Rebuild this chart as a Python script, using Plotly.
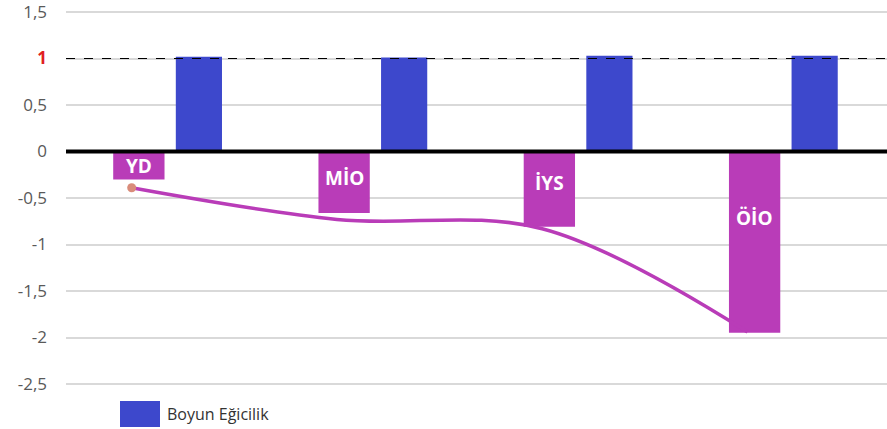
import plotly.graph_objects as go

categories = ["YD", "MİO", "İYS", "ÖİO"]
boyun_egicilik = [1.02, 1.01, 1.03, 1.03]
alt_boyut = [-0.30, -0.66, -0.81, -1.95]
egilim = [-0.39, -0.73, -0.83, -1.94]
label_y = [-0.16, -0.28, -0.34, -0.71]
tick_vals = [1.5, 1, 0.5, 0, -0.5, -1, -1.5, -2, -2.5]
tick_text = ["1,5", "<b><span style='color:#e02020'>1</span></b>", "0,5", "0", "-0,5", "-1", "-1,5", "-2", "-2,5"]
legend_name = "Boyun Eğicilik"

idx = list(range(len(categories)))
fig = go.Figure()

fig.add_trace(go.Bar(
    x=idx, y=alt_boyut, width=0.25, offset=-0.27,
    marker=dict(color="#b93cb8", line=dict(width=0)),
    showlegend=False, hoverinfo="skip"))
fig.add_trace(go.Bar(
    x=idx, y=boyun_egicilik, width=0.225, offset=0.035,
    marker=dict(color="#3d48cc", line=dict(width=0)),
    name=legend_name, showlegend=False))
fig.add_trace(go.Scatter(
    x=[i - 0.18 for i in idx], y=egilim, mode="lines",
    line=dict(color="#b93cb8", width=3.5, shape="spline", smoothing=1.0),
    showlegend=False, hoverinfo="skip"))
fig.add_trace(go.Scatter(
    x=[idx[0] - 0.18], y=[egilim[0]], mode="markers",
    marker=dict(color="#d98c7a", size=9),
    showlegend=False, hoverinfo="skip"))

for i, (c, ly) in enumerate(zip(categories, label_y)):
    fig.add_annotation(x=i - 0.145, y=ly, text="<b>" + c + "</b>", showarrow=False,
                       font=dict(color="white", size=19, family="Open Sans"))

fig.add_shape(type="line", xref="paper", x0=0, x1=1, y0=1, y1=1,
              line=dict(color="black", width=1, dash="dash"))
fig.add_shape(type="line", xref="paper", x0=0, x1=1, y0=0, y1=0,
              line=dict(color="black", width=4))

# manual legend
fig.add_shape(type="rect", xref="paper", yref="paper",
              x0=54 / 821, x1=94 / 821, y0=-39 / 380, y1=-13 / 380,
              fillcolor="#3d48cc", line=dict(color="#3d48cc", width=0))
fig.add_annotation(xref="paper", yref="paper", x=99 / 821, y=-26 / 380,
                   xanchor="left", yanchor="middle", showarrow=False,
                   text=legend_name, font=dict(size=16, color="#333333", family="Open Sans"))

fig.update_layout(
    width=887, height=429,
    margin=dict(l=66, r=0, t=8, b=41),
    plot_bgcolor="white", paper_bgcolor="white",
    barmode="overlay",
    showlegend=False,
    xaxis=dict(range=[-0.5, 3.5], showticklabels=False, showgrid=False, zeroline=False,
               automargin=False),
    yaxis=dict(range=[-2.543, 1.543], tickvals=tick_vals, ticktext=tick_text,
               gridcolor="#d9d9d9", gridwidth=2, zeroline=False, automargin=False,
               tickfont=dict(size=17, color="#595959", family="Open Sans"),
               ticks="", ticklabelstandoff=18, ticklabeloverflow="allow"),
    font=dict(family="Open Sans"),
)

fig.write_html("out.html", config={"displayModeBar": False},
               post_script="document.body.style.margin='0';document.body.style.overflow='hidden';")
